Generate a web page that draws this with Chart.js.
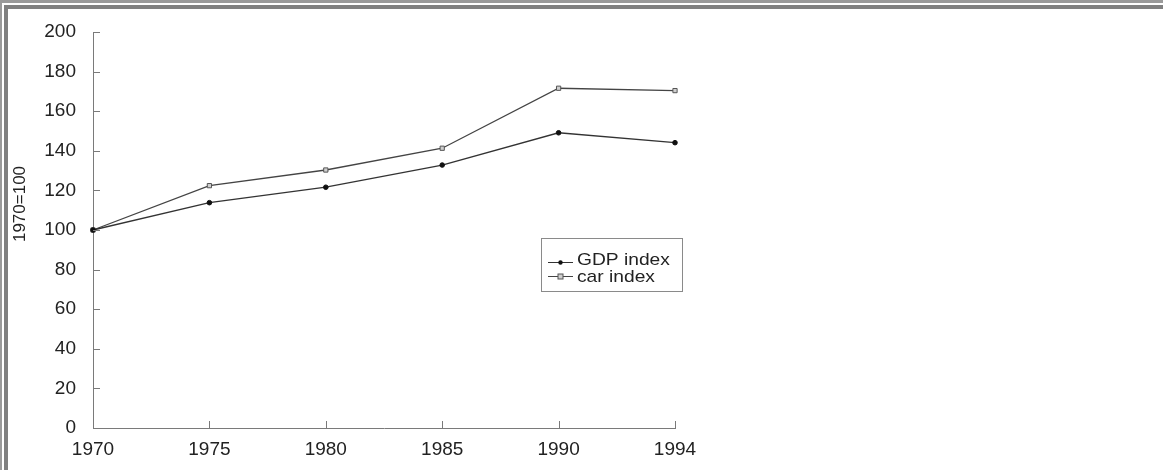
<!DOCTYPE html>
<html>
<head>
<meta charset="utf-8">
<script src="https://cdn.jsdelivr.net/npm/chart.js@4.4.0/dist/chart.umd.min.js"></script>
<style>
  html, body { margin: 0; padding: 0; background: #fff; }
  #wrap { position: relative; width: 1163px; height: 470px; overflow: hidden; }
  #c { position: absolute; left: 0; top: 0; }
  .f1 { position: absolute; left: 0; top: 0; width: 1163px; height: 470px; box-sizing: border-box;
        border-top: 3px solid #9a9a9a; border-left: 2px solid #9a9a9a; pointer-events: none; }
  .f2 { position: absolute; left: 4px; top: 5px; width: 1159px; height: 465px; box-sizing: border-box;
        border-top: 4px solid #808080; border-left: 4px solid #808080; pointer-events: none; }
</style>
</head>
<body>
<div id="wrap">
  <canvas id="c" width="1163" height="470"></canvas>
  <div class="f1"></div>
  <div class="f2"></div>
</div>
<script>
const years = ["1970", "1975", "1980", "1985", "1990", "1994"];
const gdpIndex = [100, 113.8, 121.6, 132.8, 149.1, 144.1];
const carIndex = [100, 122.4, 130.3, 141.3, 171.6, 170.4];
const yTicks = [0, 20, 40, 60, 80, 100, 120, 140, 160, 180, 200];
const yTitle = "1970=100";
const seriesNames = ["GDP index", "car index"];

const FONT = "'Liberation Sans', Arial, Helvetica, sans-serif";

const overlay = {
  id: 'overlay',
  afterDraw(chart) {
    const ctx = chart.ctx;
    const ca = chart.chartArea;
    const xs = chart.scales.x, ys = chart.scales.y;
    ctx.save();
    // inward ticks
    ctx.strokeStyle = '#7a7a7a';
    ctx.lineWidth = 1;
    ctx.beginPath();
    ys.ticks.forEach((t, i) => {
      const y = Math.round(ys.getPixelForTick(i)) + 0.5;
      ctx.moveTo(ca.left, y); ctx.lineTo(ca.left + 7, y);
    });
    xs.ticks.forEach((t, i) => {
      const x = Math.round(xs.getPixelForTick(i)) + 0.5;
      ctx.moveTo(x, ca.bottom); ctx.lineTo(x, ca.bottom - 7);
    });
    ctx.stroke();

    // y title
    ctx.save();
    ctx.translate(20, 204);
    ctx.rotate(-Math.PI / 2);
    ctx.fillStyle = '#222';
    ctx.font = '17px ' + FONT;
    ctx.textAlign = 'center';
    ctx.textBaseline = 'middle';
    ctx.fillText(yTitle, 0, 0);
    ctx.restore();

    // legend box
    const bx = 541.5, by = 238.5, bw = 141, bh = 53;
    ctx.strokeStyle = '#8a8a8a';
    ctx.lineWidth = 1;
    ctx.strokeRect(bx, by, bw, bh);
    const rows = [262.5, 276.5];
    chart.data.datasets.forEach((ds, i) => {
      const y = rows[i];
      ctx.strokeStyle = ds.borderColor;
      ctx.lineWidth = 1;
      ctx.beginPath();
      ctx.moveTo(548, y); ctx.lineTo(573, y);
      ctx.stroke();
      if (ds.pointStyle === 'rect') {
        ctx.fillStyle = ds.pointBackgroundColor;
        ctx.strokeStyle = ds.pointBorderColor;
        ctx.fillRect(558, y - 2.5, 5, 5);
        ctx.strokeRect(558, y - 2.5, 5, 5);
      } else {
        ctx.fillStyle = ds.pointBackgroundColor;
        ctx.beginPath();
        ctx.arc(560.5, y, 2.2, 0, Math.PI * 2);
        ctx.fill();
      }
      ctx.save();
      ctx.fillStyle = '#222';
      ctx.font = '17px ' + FONT;
      ctx.textBaseline = 'alphabetic';
      ctx.translate(577, i === 0 ? 265 : 281.5);
      ctx.scale(1.13, 1);
      ctx.fillText(ds.label, 0, 0);
      ctx.restore();
    });
    ctx.restore();
  }
};

new Chart(document.getElementById('c'), {
  type: 'line',
  data: {
    labels: years,
    datasets: [
      {
        label: seriesNames[0],
        data: gdpIndex,
        borderColor: '#333',
        borderWidth: 1.3,
        pointStyle: 'circle',
        pointRadius: 2.3,
        pointBackgroundColor: '#111',
        pointBorderColor: '#111',
        pointBorderWidth: 1,
        tension: 0,
        fill: false
      },
      {
        label: seriesNames[1],
        data: carIndex,
        borderColor: '#444',
        borderWidth: 1.3,
        pointStyle: 'rect',
        pointRadius: 3,
        pointBackgroundColor: '#cfcfcf',
        pointBorderColor: '#555',
        pointBorderWidth: 1,
        tension: 0,
        fill: false
      }
    ]
  },
  options: {
    responsive: false,
    animation: false,
    devicePixelRatio: 1,
    layout: { padding: { left: 0, top: 32, right: 488, bottom: 0 } },
    plugins: { legend: { display: false }, tooltip: { enabled: false } },
    scales: {
      x: {
        type: 'category',
        offset: false,
        grid: { display: false, drawOnChartArea: false, drawTicks: false },
        border: { display: true, color: '#7a7a7a', width: 1 },
        ticks: { color: '#222', font: { family: FONT, size: 19 }, padding: 10, maxRotation: 0, autoSkip: false },
        afterFit(s) { s.height = 42; }
      },
      y: {
        min: 0, max: 200,
        afterBuildTicks(s) { s.ticks = yTicks.map(v => ({ value: v })); },
        grid: { display: false, drawOnChartArea: false, drawTicks: false },
        border: { display: true, color: '#7a7a7a', width: 1 },
        ticks: { color: '#222', font: { family: FONT, size: 19 }, padding: 17 },
        afterFit(s) { s.width = 93; }
      }
    }
  },
  plugins: [overlay]
});
</script>
</body>
</html>
